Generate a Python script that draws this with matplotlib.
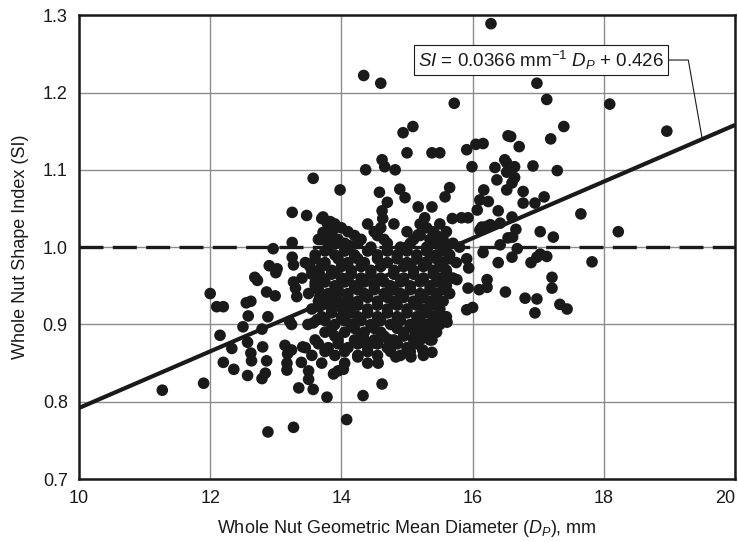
import matplotlib
matplotlib.use("Agg")
import matplotlib.pyplot as plt

plt.rcParams["font.family"] = ["Liberation Sans", "DejaVu Sans"]
plt.rcParams["mathtext.fontset"] = "custom"
plt.rcParams["mathtext.rm"] = "Liberation Sans"
plt.rcParams["mathtext.it"] = "Liberation Sans:italic"

# whole nut geometric mean diameter (mm) and shape index
diam = [
    # left side
    11.27, 11.9, 12.0, 12.1, 12.2, 12.55, 12.58, 12.62, 12.68, 12.72, 12.86, 12.99,
    12.9, 13.0, 13.02, 12.96, 13.25, 13.25, 13.27, 13.52, 13.25, 13.47, 13.57, 13.27,
    13.3, 13.32, 12.88, 12.15, 12.33, 12.2, 12.36, 12.5, 12.57, 12.62, 12.63, 12.57,
    12.8, 12.86, 12.79, 12.84, 12.79, 13.14, 13.24, 13.18, 13.17, 13.17, 13.24, 13.21,
    13.41, 13.39, 13.5, 13.35, 13.57, 12.88, 13.27, 13.57, 13.49,
    # upper middle
    13.98, 14.34, 14.6, 15.0, 15.38, 15.5, 14.62, 14.66, 14.37, 14.82, 14.58, 14.89,
    14.97, 14.7, 14.62, 14.63, 15.17, 15.38, 15.27, 15.69, 13.72, 13.83, 13.87, 13.7,
    13.7, 13.78, 13.87, 13.83, 13.72, 13.83, 13.93, 14.05, 14.12,
    13.67, 13.6, 13.9, 14.02, 14.1, 13.63, 13.67, 13.65, 13.83, 13.93, 13.98, 14.1,
    15.09, 14.94, 15.91, 16.05, 16.16, 15.99, 16.34, 16.52, 16.54, 16.37, 16.52, 16.17,
    16.11, 16.24, 16.07, 16.39, 15.65, 15.58, 15.83, 15.93, 16.14, 16.27, 16.42, 16.11,
    15.17, 15.0, 15.32, 15.38, 15.52, 16.42, 16.54,
    # upper right
    15.72, 16.98, 17.13, 18.09, 17.39, 17.19, 16.58, 16.71, 16.92, 17.29, 16.49, 16.64,
    16.52, 16.64, 16.6, 16.77, 17.09, 16.95, 16.77, 16.28, 18.96, 17.65, 18.22, 17.82,
    # lower right
    16.6, 16.66, 16.61, 16.22, 17.03, 17.23, 16.68, 16.16, 16.6, 16.89, 16.98, 17.03,
    17.13, 16.39, 15.91, 15.94, 15.76, 16.22, 16.1, 16.22, 15.93, 16.5, 16.8, 16.98,
    16.95, 17.21, 17.21, 17.33, 17.44, 15.91, 16.0, 15.61, 15.55,
    # lower middle
    14.62, 14.56, 14.83, 15.06, 14.51, 14.25, 15.38, 15.24, 15.2, 15.38, 15.12, 15.38,
    15.15, 15.05, 14.71, 14.35, 14.08, 13.78, 14.33, 13.88, 14.03,
    # dense centre
    13.9, 14.4, 14.8, 15.2, 15.5,
    13.75, 14.1, 14.5, 15.0, 15.4, 15.6,
    13.65, 13.95, 14.3, 14.65, 15.1, 15.35, 15.55,
    13.8, 14.05, 14.45, 14.9, 15.3, 15.6, 15.8,
    13.6, 13.9, 14.2, 14.55, 14.85, 15.15, 15.45, 15.65,
    13.45, 13.75, 14.1, 14.35, 14.7, 15.0, 15.3, 15.55, 15.75,
    13.55, 13.85, 14.15, 14.45, 14.8, 15.1, 15.4, 15.6,
    13.4, 13.7, 14.0, 14.3, 14.6, 14.95, 15.25, 15.5, 15.7,
    13.6, 13.9, 14.2, 14.5, 14.75, 15.05, 15.35, 15.6,
    13.5, 13.8, 14.1, 14.35, 14.65, 14.9, 15.2, 15.45, 15.65,
    13.65, 13.95, 14.25, 14.55, 14.8, 15.1, 15.35, 15.55,
    13.55, 13.85, 14.1, 14.4, 14.7, 15.0, 15.25, 15.5,
    13.7, 14.0, 14.25, 14.55, 14.85, 15.15, 15.4, 15.6,
    13.9, 14.15, 14.45, 14.75, 15.05, 15.3, 15.5,
    13.75, 14.05, 14.35, 14.6, 14.95, 15.2, 15.45,
    13.6, 13.95, 14.2, 14.5, 14.8, 15.1, 15.35,
    13.45, 13.8, 14.1, 14.4, 14.7, 15.0,
    13.55, 13.9, 14.25, 14.55, 14.9, 15.25,
    13.7, 14.05, 14.4,
    13.5, 13.95,
    # dense centre, in-between rows
    14.0, 14.6, 15.3,
    13.8, 14.2, 14.55, 15.2, 15.45,
    13.9, 14.25, 14.7, 15.05, 15.45, 15.7,
    13.75, 14.05, 14.4, 14.7, 15.0, 15.3, 15.55,
    13.6, 13.95, 14.25, 14.55, 14.85, 15.15, 15.45, 15.65,
    13.7, 14.0, 14.3, 14.6, 14.95, 15.25, 15.5,
    13.55, 13.85, 14.15, 14.45, 14.8, 15.1, 15.4, 15.6,
    13.75, 14.05, 14.35, 14.65, 14.9, 15.2, 15.45,
    13.65, 13.95, 14.25, 14.5, 14.8, 15.05, 15.35, 15.55,
    13.8, 14.1, 14.4, 14.7, 14.95, 15.25, 15.45,
    13.7, 14.0, 14.25, 14.55, 14.85, 15.15, 15.4,
    13.85, 14.15, 14.4, 14.7, 15.0, 15.3, 15.5,
    13.75, 14.05, 14.3, 14.6, 14.9, 15.2, 15.45,
    13.85, 14.2, 14.5, 14.85, 15.1, 15.35,
    13.9, 14.3, 14.65, 14.95, 15.3,
    13.65, 13.95, 14.25, 14.55, 14.85, 15.15,
    13.75, 14.05, 14.4, 14.75, 15.05,
]
shape_index = [
    # left side
    0.815, 0.824, 0.94, 0.923, 0.923, 0.928, 0.911, 0.93, 0.961, 0.957, 0.942, 0.937,
    0.976, 0.967, 0.972, 0.998, 1.006, 0.987, 0.977, 0.975, 1.045, 1.041, 1.089, 0.955,
    0.947, 0.936, 0.91, 0.886, 0.869, 0.851, 0.842, 0.897, 0.877, 0.863, 0.853, 0.834,
    0.871, 0.853, 0.83, 0.837, 0.894, 0.873, 0.867, 0.862, 0.85, 0.841, 0.9, 0.904,
    0.871, 0.851, 0.829, 0.818, 0.816, 0.761, 0.767, 0.902, 0.9,
    # upper middle
    1.074, 1.222, 1.212, 1.122, 1.122, 1.122, 1.113, 1.104, 1.10, 1.10, 1.071, 1.075,
    1.064, 1.058, 1.047, 1.037, 1.052, 1.052, 1.038, 1.037, 1.039, 1.033, 1.022, 1.01,
    1.037, 1.032, 1.026, 1.018, 1.019, 1.006, 1.005, 1.005, 1.002,
    0.964, 0.954, 0.967, 0.958, 0.96, 0.906, 0.936, 0.923, 0.93, 0.943, 0.923, 0.926,
    1.156, 1.148, 1.126, 1.133, 1.134, 1.104, 1.103, 1.109, 1.144, 1.087, 1.074, 1.074,
    1.061, 1.059, 1.048, 1.047, 1.077, 1.065, 1.038, 1.038, 1.026, 1.029, 1.031, 1.022,
    1.016, 1.0, 1.0, 1.009, 1.012, 1.003, 1.012,
    # upper right
    1.186, 1.212, 1.191, 1.185, 1.156, 1.14, 1.143, 1.13, 1.105, 1.099, 1.113, 1.104,
    1.097, 1.09, 1.083, 1.072, 1.065, 1.057, 1.057, 1.289, 1.15, 1.043, 1.02, 0.981,
    # lower right
    1.039, 1.023, 1.013, 1.027, 1.02, 1.013, 0.998, 0.993, 0.987, 0.98, 0.987, 0.991,
    0.988, 0.98, 0.985, 0.973, 0.958, 0.958, 0.945, 0.948, 0.947, 0.942, 0.934, 0.933,
    0.915, 0.961, 0.947, 0.926, 0.92, 0.919, 0.922, 0.903, 0.958,
    # lower middle
    0.823, 0.85, 0.858, 0.858, 0.876, 0.858, 0.864, 0.867, 0.88, 0.88, 0.886, 0.9,
    0.897, 0.897, 0.881, 0.88, 0.777, 0.806, 0.808, 0.836, 0.842,
    # dense centre
    1.03, 1.03, 1.03, 1.03, 1.03,
    1.02, 1.02, 1.02, 1.02, 1.02, 1.02,
    1.01, 1.01, 1.01, 1.01, 1.01, 1.01, 1.01,
    1.0, 1.0, 1.0, 1.0, 1.0, 1.0, 1.0,
    0.99, 0.99, 0.99, 0.99, 0.99, 0.99, 0.99, 0.99,
    0.98, 0.98, 0.98, 0.98, 0.98, 0.98, 0.98, 0.98, 0.98,
    0.97, 0.97, 0.97, 0.97, 0.97, 0.97, 0.97, 0.97,
    0.96, 0.96, 0.96, 0.96, 0.96, 0.96, 0.96, 0.96, 0.96,
    0.95, 0.95, 0.95, 0.95, 0.95, 0.95, 0.95, 0.95,
    0.94, 0.94, 0.94, 0.94, 0.94, 0.94, 0.94, 0.94, 0.94,
    0.93, 0.93, 0.93, 0.93, 0.93, 0.93, 0.93, 0.93,
    0.92, 0.92, 0.92, 0.92, 0.92, 0.92, 0.92, 0.92,
    0.91, 0.91, 0.91, 0.91, 0.91, 0.91, 0.91, 0.91,
    0.90, 0.90, 0.90, 0.90, 0.90, 0.90, 0.90,
    0.89, 0.89, 0.89, 0.89, 0.89, 0.89, 0.89,
    0.88, 0.88, 0.88, 0.88, 0.88, 0.88, 0.88,
    0.87, 0.87, 0.87, 0.87, 0.87, 0.87,
    0.86, 0.86, 0.86, 0.86, 0.86, 0.86,
    0.85, 0.85, 0.85,
    0.84, 0.84,
    # dense centre, in-between rows
    1.025, 1.025, 1.025,
    1.015, 1.015, 1.015, 1.015, 1.015,
    1.005, 1.005, 1.005, 1.005, 1.005, 1.005,
    0.995, 0.995, 0.995, 0.995, 0.995, 0.995, 0.995,
    0.985, 0.985, 0.985, 0.985, 0.985, 0.985, 0.985, 0.985,
    0.975, 0.975, 0.975, 0.975, 0.975, 0.975, 0.975,
    0.965, 0.965, 0.965, 0.965, 0.965, 0.965, 0.965, 0.965,
    0.955, 0.955, 0.955, 0.955, 0.955, 0.955, 0.955,
    0.945, 0.945, 0.945, 0.945, 0.945, 0.945, 0.945, 0.945,
    0.935, 0.935, 0.935, 0.935, 0.935, 0.935, 0.935,
    0.925, 0.925, 0.925, 0.925, 0.925, 0.925, 0.925,
    0.915, 0.915, 0.915, 0.915, 0.915, 0.915, 0.915,
    0.905, 0.905, 0.905, 0.905, 0.905, 0.905, 0.905,
    0.895, 0.895, 0.895, 0.895, 0.895, 0.895,
    0.885, 0.885, 0.885, 0.885, 0.885,
    0.875, 0.875, 0.875, 0.875, 0.875, 0.875,
    0.865, 0.865, 0.865, 0.865, 0.865,
]

# regression SI = slope * Dp + intercept
slope = 0.0366
intercept = 0.426
fit_x = [10, 20]

x_ticks = [10, 12, 14, 16, 18, 20]
y_ticks = [0.7, 0.8, 0.9, 1.0, 1.1, 1.2, 1.3]

ink = "#1a1a1a"
fig = plt.figure(figsize=(7.38, 5.42), dpi=100)
ax = fig.add_axes([0.107, 0.116, 0.889, 0.856])

ax.scatter(diam, shape_index, s=70, color=ink, edgecolors="none", zorder=3)
ax.plot(fit_x, [slope * v + intercept for v in fit_x], color=ink, lw=3, zorder=4,
        solid_capstyle="butt")
ax.axhline(1.0, color=ink, lw=2.4, ls=(0, (7.2, 2.8)), zorder=2)

ax.set_xlim(10, 20)
ax.set_ylim(0.7, 1.3)
ax.set_xticks(x_ticks)
ax.set_yticks(y_ticks)
ax.set_yticklabels(["%.1f" % v for v in y_ticks])
ax.tick_params(length=0, labelsize=13, pad=8, colors=ink)
ax.get_xticklabels()[-1].set_horizontalalignment("right")
ax.grid(True, color="#8c8c8c", lw=1)
ax.set_axisbelow(True)
for sp in ax.spines.values():
    sp.set_linewidth(1.8)
    sp.set_color(ink)

ax.set_xlabel(r"Whole Nut Geometric Mean Diameter ($\mathit{D_P}$), mm", fontsize=13,
              color=ink, labelpad=8)
ax.set_ylabel("Whole Nut Shape Index (SI)", fontsize=13, color=ink, labelpad=10)

# equation label with leader line to the regression line
tip_x = 19.5
ax.annotate(r"$\mathit{SI}$ = 0.0366 mm$^{-1}$ $\mathit{D_P}$ + 0.426",
            xy=(tip_x, slope * tip_x + intercept), xytext=(18.92, 1.242),
            ha="right", va="center", fontsize=13.5, color=ink,
            bbox=dict(boxstyle="square,pad=0.2", fc="white", ec=ink, lw=0.8),
            arrowprops=dict(arrowstyle="-", color=ink, lw=0.8,
                            connectionstyle="angle,angleA=0,angleB=100,rad=0",
                            shrinkA=0, shrinkB=0),
            zorder=5)

fig.savefig("out.png", dpi=100)
